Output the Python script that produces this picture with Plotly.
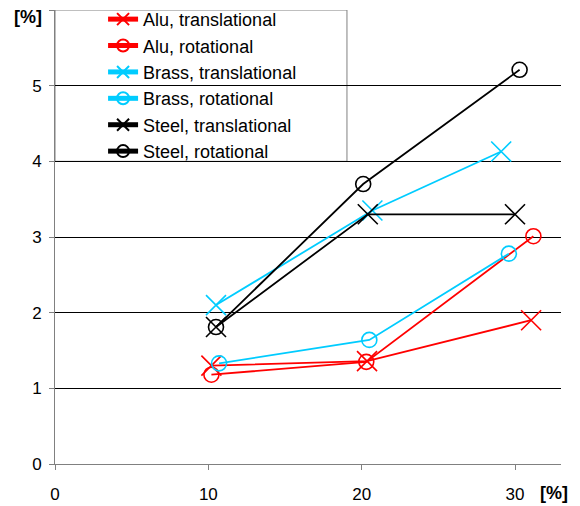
import plotly.graph_objects as go

# ---- data ----
alu_trans_x = [10.2, 20.35, 31.05]
alu_trans_y = [1.30, 1.36, 1.90]
alu_rot_x = [10.2, 20.3, 31.2]
alu_rot_y = [1.18, 1.35, 3.01]
brass_trans_x = [10.5, 20.7, 29.1]
brass_trans_y = [2.10, 3.35, 4.13]
brass_rot_x = [10.7, 20.5, 29.6]
brass_rot_y = [1.33, 1.64, 2.78]
steel_trans_x = [10.5, 20.4, 30.0]
steel_trans_y = [1.81, 3.30, 3.30]
steel_rot_x = [10.5, 20.1, 30.3]
steel_rot_y = [1.81, 3.70, 5.21]

series_names = ["Alu, translational", "Alu, rotational", "Brass, translational",
                "Brass, rotational", "Steel, translational", "Steel, rotational"]
x_tick_vals = [0, 10, 20, 30]
x_tick_text = ["0", "10", "20", "30"]
y_tick_vals = [0, 1, 2, 3, 4, 5, 6]
y_tick_text = ["0", "1", "2", "3", "4", "5", ""]
unit_label = "[%]"

RED = "#FF0000"
CYAN = "#00CCFF"
BLACK = "#000000"

series = [
    (alu_trans_x, alu_trans_y, RED, "x-thin-open", 20),
    (alu_rot_x, alu_rot_y, RED, "circle-open", 15),
    (brass_trans_x, brass_trans_y, CYAN, "x-thin-open", 20),
    (brass_rot_x, brass_rot_y, CYAN, "circle-open", 15),
    (steel_trans_x, steel_trans_y, BLACK, "x-thin-open", 20),
    (steel_rot_x, steel_rot_y, BLACK, "circle-open", 15),
]

fig = go.Figure()
for name, (xs, ys, col, sym, sz) in zip(series_names, series):
    fig.add_trace(go.Scatter(
        x=xs, y=ys, name=name, mode="lines+markers",
        line=dict(color=col, width=1.8),
        marker=dict(symbol=sym, size=sz, color=col, line=dict(color=col, width=1.6)),
    ))

FONT = "Liberation Sans, Arial, sans-serif"

# page has an 8px body margin, so the figure is sized to fit the window
fig.update_layout(
    width=572, height=498,
    margin=dict(l=47, r=19, t=2, b=42, autoexpand=False),
    paper_bgcolor="white", plot_bgcolor="white",
    font=dict(family=FONT, size=17, color="black"),
    showlegend=True,
    legend=dict(
        x=0.095, y=1.02, xanchor="left", yanchor="top",
        bgcolor="rgba(0,0,0,0)", borderwidth=0,
        font=dict(family=FONT, size=18, color="black"),
        itemsizing="constant",
    ),
    xaxis=dict(
        range=[0, 33], tickvals=x_tick_vals, ticktext=x_tick_text,
        showgrid=False, zeroline=False,
        showline=True, linecolor="#808080", linewidth=1,
        ticks="outside", ticklen=5, tickcolor="#808080",
        tickfont=dict(size=17), ticklabelstandoff=10,
    ),
    yaxis=dict(
        range=[0, 6], tickvals=y_tick_vals, ticktext=y_tick_text,
        showgrid=True, gridcolor="black", gridwidth=1, zeroline=False,
        showline=True, linecolor="#808080", linewidth=1,
        ticks="outside", ticklen=5, tickcolor="#808080",
        tickfont=dict(size=17), ticklabelstandoff=4,
    ),
    shapes=[dict(
        type="rect", xref="paper", yref="y", x0=0, x1=0.577, y0=4, y1=6,
        line=dict(color="#808080", width=1), fillcolor="white", layer="below",
    )],
    annotations=[
        dict(text="<b>" + unit_label + "</b>", xref="paper", yref="paper",
             x=-0.053, y=0.985, xanchor="center", yanchor="middle",
             showarrow=False, font=dict(size=18)),
        dict(text="<b>" + unit_label + "</b>", xref="paper", yref="paper",
             x=0.986, y=-0.064, xanchor="center", yanchor="middle",
             showarrow=False, font=dict(size=18)),
    ],
)

fig.write_html("out.html")
